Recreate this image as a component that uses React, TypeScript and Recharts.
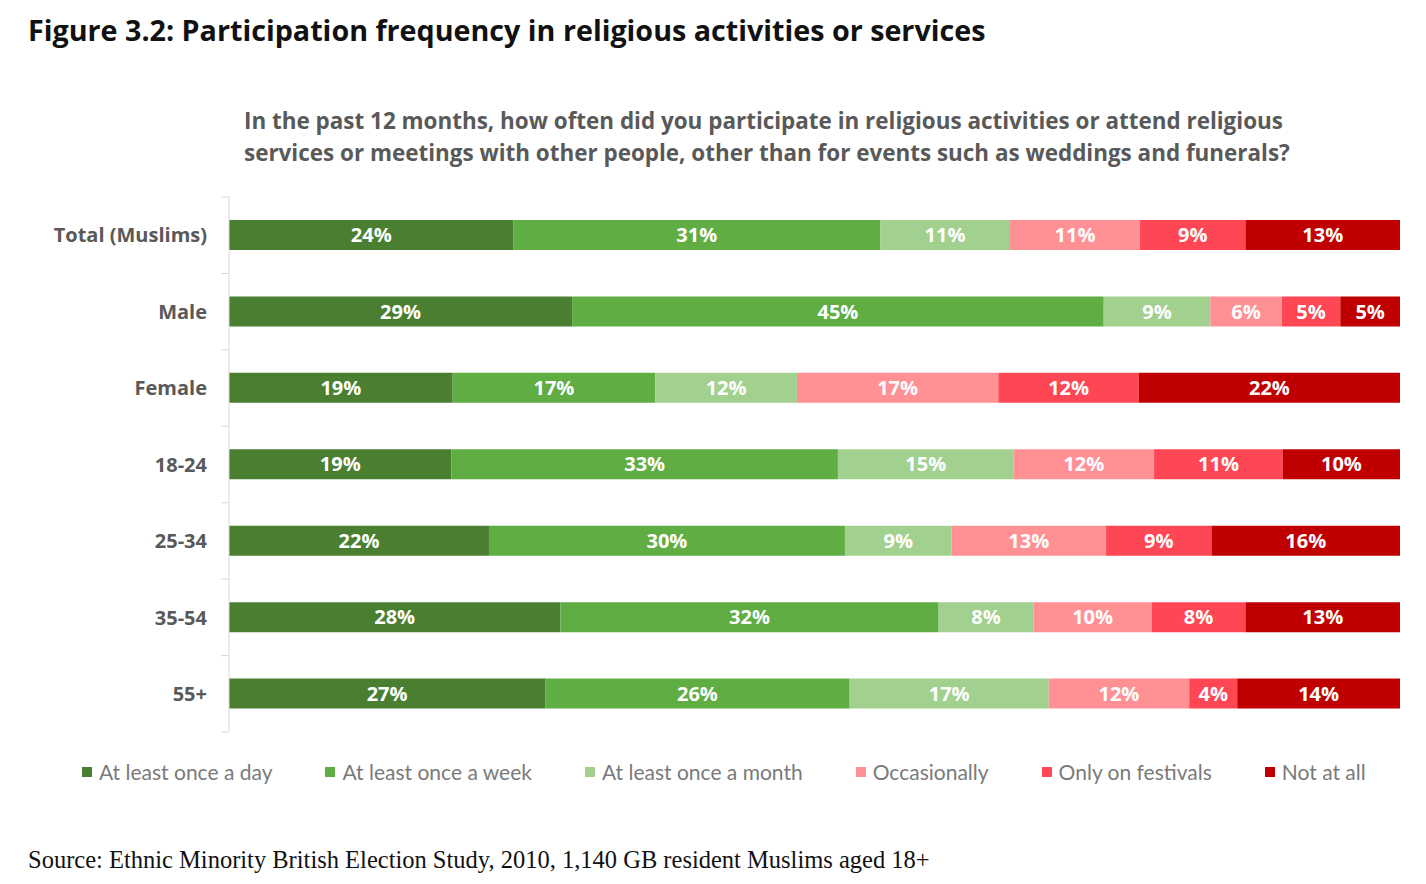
import { BarChart, Bar, XAxis, YAxis, LabelList } from 'recharts';

// Rows of the chart, top to bottom
const categories = ['Total (Muslims)', 'Male', 'Female', '18-24', '25-34', '35-54', '55+'];

// Share of each answer per row (%)
const onceADay = [24.3, 29.3, 19.1, 19.0, 22.2, 28.3, 27.0];
const onceAWeek = [31.3, 45.4, 17.3, 33.0, 30.4, 32.3, 26.0];
const onceAMonth = [11.1, 9.1, 12.1, 15.0, 9.1, 8.1, 17.0];
const occasionally = [11.1, 6.1, 17.2, 12.0, 13.2, 10.1, 12.0];
const onlyFestivals = [9.0, 5.0, 12.0, 11.0, 9.0, 8.0, 4.1];
const notAtAll = [13.2, 5.1, 22.3, 10.0, 16.1, 13.2, 13.9];

const series = [
  { key: 'day', name: 'At least once a day', color: '#4a7f32', values: onceADay },
  { key: 'week', name: 'At least once a week', color: '#5fad43', values: onceAWeek },
  { key: 'month', name: 'At least once a month', color: '#a2d08e', values: onceAMonth },
  { key: 'occ', name: 'Occasionally', color: '#ff9195', values: occasionally },
  { key: 'fest', name: 'Only on festivals', color: '#ff4654', values: onlyFestivals },
  { key: 'none', name: 'Not at all', color: '#c00000', values: notAtAll },
];

const data = categories.map((cat, i) => {
  const row: Record<string, string | number> = { cat };
  series.forEach((s) => {
    row[s.key] = s.values[i];
  });
  return row;
});

const BOLD_FONT = '"Open Sans", Lato, sans-serif';
const LIGHT_FONT = 'Lato, "Open Sans", sans-serif';
const CHART_W = 1410;
const CHART_H = 740;
const MARGIN = { top: 189, right: 18, bottom: 16, left: 0 };
const AXIS_W = 221;
const BAND = (CHART_H - MARGIN.top - MARGIN.bottom) / categories.length;

function CategoryTick(props: any) {
  const { x, y, payload, index } = props;
  const axisX = MARGIN.left + AXIS_W;
  return (
    <g>
      <text
        x={x}
        y={y}
        dy="0.36em"
        textAnchor="end"
        fill="#595959"
        fontFamily={BOLD_FONT}
        fontWeight={700}
        fontSize={20}
      >
        {payload.value}
      </text>
      <line x1={axisX - 8} x2={axisX} y1={y - BAND / 2} y2={y - BAND / 2} stroke="#d9d9d9" />
      {index === categories.length - 1 && (
        <line x1={axisX - 8} x2={axisX} y1={y + BAND / 2} y2={y + BAND / 2} stroke="#d9d9d9" />
      )}
    </g>
  );
}

export default function App() {
  return (
    <div style={{ position: 'relative', width: CHART_W, height: 868, background: '#fff' }}>
      <div
        style={{
          position: 'absolute',
          left: 20,
          top: 2,
          fontFamily: BOLD_FONT,
          fontSize: 28.7,
          fontWeight: 700,
          color: '#111',
          whiteSpace: 'nowrap',
        }}
      >
        Figure 3.2: Participation frequency in religious activities or services
      </div>
      <div
        style={{
          position: 'absolute',
          left: 236,
          top: 97,
          fontFamily: BOLD_FONT,
          fontSize: 22.45,
          lineHeight: '32px',
          fontWeight: 700,
          color: '#595959',
          whiteSpace: 'nowrap',
        }}
      >
        In the past 12 months, how often did you participate in religious activities or attend religious
        <br />
        services or meetings with other people, other than for events such as weddings and funerals?
      </div>

      <div style={{ position: 'absolute', left: 0, top: 0 }}>
        <BarChart width={CHART_W} height={CHART_H} data={data} layout="vertical" margin={MARGIN}>
          <XAxis type="number" domain={[0, 100]} hide allowDataOverflow />
          <YAxis
            type="category"
            dataKey="cat"
            width={AXIS_W}
            axisLine={{ stroke: '#d9d9d9' }}
            tickLine={false}
            tickSize={0}
            tickMargin={22}
            tick={<CategoryTick />}
            interval={0}
          />
          {series.map((s) => (
            <Bar key={s.key} dataKey={s.key} name={s.name} stackId="a" fill={s.color} barSize={30} isAnimationActive={false}>
              <LabelList
                dataKey={s.key}
                position="center"
                formatter={(v: any) => `${Math.round(Number(v))}%`}
                fill="#fff"
                fontFamily={BOLD_FONT}
                fontWeight={700}
                fontSize={20}
              />
            </Bar>
          ))}
        </BarChart>
      </div>

      <div
        style={{
          position: 'absolute',
          left: 74,
          top: 751,
          display: 'flex',
          gap: 53,
          fontFamily: LIGHT_FONT,
          fontSize: 21,
          color: '#7a7a7a',
          whiteSpace: 'nowrap',
        }}
      >
        {series.map((s) => (
          <div key={s.key} style={{ display: 'flex', alignItems: 'center' }}>
            <span style={{ display: 'inline-block', width: 10, height: 10, background: s.color, marginRight: 7 }} />
            <span>{s.name}</span>
          </div>
        ))}
      </div>

      <div
        style={{
          position: 'absolute',
          left: 20,
          top: 838,
          fontFamily: '"Liberation Serif", "Times New Roman", serif',
          fontSize: 24.5,
          color: '#111',
          whiteSpace: 'nowrap',
        }}
      >
        Source: Ethnic Minority British Election Study, 2010, 1,140 GB resident Muslims aged 18+
      </div>
    </div>
  );
}
